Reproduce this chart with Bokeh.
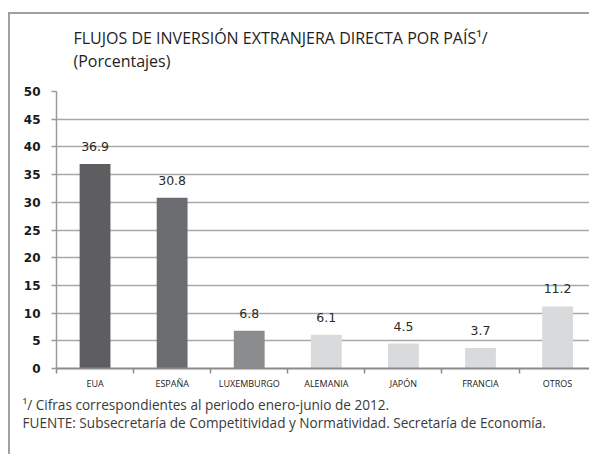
import numpy as np
from bokeh.plotting import figure
from bokeh.models import (ColumnDataSource, Range1d, FixedTicker, SingleIntervalTicker, Title)
from bokeh.embed import file_html
from bokeh.resources import INLINE
from bokeh.core.properties import value

categories = ["EUA", "ESPAÑA", "LUXEMBURGO", "ALEMANIA", "JAPÓN", "FRANCIA", "OTROS"]
values = [36.9, 30.8, 6.8, 6.1, 4.5, 3.7, 11.2]
bar_colors = ["#5e5e60", "#6b6c6f", "#8b8c8e", "#d9dadb", "#d9dadb", "#d9dadb", "#d9dadb"]
title_line1 = "FLUJOS DE INVERSIÓN EXTRANJERA DIRECTA POR PAÍS¹/"
title_line2 = "(Porcentajes)"
note_line1 = "¹/  Cifras correspondientes al periodo enero-junio de 2012."
note_line2 = "FUENTE: Subsecretaría de Competitividad y Normatividad. Secretaría de Economía."

centers = np.arange(len(categories)) + 0.5
bounds = list(np.arange(len(categories) + 1).astype(float))

src = ColumnDataSource(dict(x=centers, top=values, color=bar_colors,
                            label=[f"{v:.1f}" for v in values]))

# figure sits inside a box drawn with a top and left border (margin 12 top, 8 left, 2px border)
W, H = 581, 442
p = figure(width=W, height=H, output_backend="svg", toolbar_location=None,
           x_range=Range1d(0, 6.94), y_range=Range1d(0, 50),
           min_border_left=46, min_border_right=0, min_border_top=77, min_border_bottom=88)
p.margin = (12, 0, 0, 8)
p.styles = {"border-top": "2px solid #a0a0a0", "border-left": "2px solid #a0a0a0"}
p.outline_line_color = None
p.background_fill_color = "white"
p.border_fill_color = "white"

p.vbar(x="x", top="top", bottom=0, width=0.40, fill_color="color", line_color=None, source=src)
p.text(x="x", y="top", text="label", source=src, text_align="center", text_baseline="bottom",
       y_offset=-13, text_font=value("DejaVu Sans"), text_font_size="12.5px", text_color="#2a2a2a")

# grid
p.xgrid.grid_line_color = None
p.ygrid.ticker = SingleIntervalTicker(interval=5)
p.ygrid.grid_line_color = "#a8a8a8"
p.ygrid.grid_line_width = 1.5

# y axis
ya = p.yaxis[0]
ya.ticker = SingleIntervalTicker(interval=5)
ya.minor_tick_line_color = None
ya.major_tick_in = 0
ya.major_tick_out = 5
ya.major_tick_line_color = "#9a9a9a"
ya.major_tick_line_width = 1.5
ya.axis_line_color = "#9a9a9a"
ya.axis_line_width = 1.5
ya.major_label_text_font = "DejaVu Sans"
ya.major_label_text_font_style = "bold"
ya.major_label_text_font_size = "12px"
ya.major_label_text_color = "#1a1a1a"
ya.major_label_standoff = 11

# x axis
xa = p.xaxis[0]
xa.ticker = FixedTicker(ticks=list(centers), minor_ticks=bounds)
xa.major_label_overrides = {float(c): cat for c, cat in zip(centers, categories)}
xa.major_tick_line_color = None
xa.major_tick_in = 0
xa.major_tick_out = 0
xa.minor_tick_in = 0
xa.minor_tick_out = 5
xa.minor_tick_line_color = "#8a8a8a"
xa.minor_tick_line_width = 1.5
xa.axis_line_color = "#8a8a8a"
xa.axis_line_width = 2
xa.major_label_text_font = "Open Sans"
xa.major_label_text_font_size = "9px"
xa.major_label_text_color = "#1a1a1a"
xa.major_label_standoff = 3

# titles: a blank spacer next to the plot, then the two-line heading above it
p.add_layout(Title(text=" ", text_font_size="8px", standoff=8), "above")
p.add_layout(Title(text=title_line1 + "\n" + title_line2, text_font="Open Sans",
                   text_font_size="16px", text_font_style="normal", text_color="#1e1e1e",
                   text_line_height=1.05, offset=17, standoff=0), "above")

p.add_layout(Title(text=note_line1 + "\n" + note_line2, text_font="Open Sans",
                   text_font_size="13.6px", text_font_style="normal", text_color="#3a3a3a",
                   text_line_height=0.98, offset=-34, standoff=0), "below")

open("out.html", "w").write(file_html(p, INLINE))
